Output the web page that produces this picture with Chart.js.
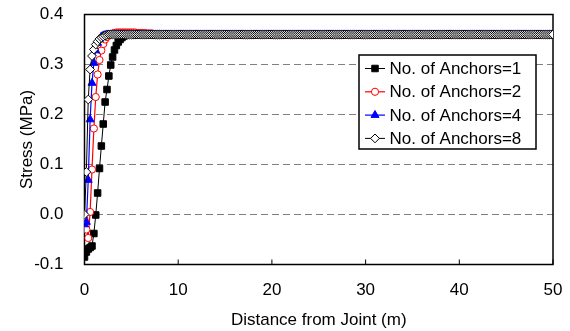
<!DOCTYPE html>
<html>
<head>
<meta charset="utf-8">
<script src="https://cdn.jsdelivr.net/npm/chart.js@4.4.1/dist/chart.umd.min.js"></script>
<style>
html, body { margin: 0; padding: 0; background: #fff; }
</style>
</head>
<body>
<canvas id="stressChart" width="570" height="331"></canvas>
<script>
// distance from joint (m), every 0.2 m
var distance = [
    0, 0.2, 0.4, 0.6, 0.8, 1, 1.2, 1.4, 1.6, 1.8,
    2, 2.2, 2.4, 2.6, 2.8, 3, 3.2, 3.4, 3.6, 3.8,
    4, 4.2, 4.4, 4.6, 4.8, 5, 5.2, 5.4, 5.6, 5.8,
    6, 6.2, 6.4, 6.6, 6.8, 7, 7.2, 7.4, 7.6, 7.8,
    8, 8.2, 8.4, 8.6, 8.8, 9, 9.2, 9.4, 9.6, 9.8,
    10, 10.2, 10.4, 10.6, 10.8, 11, 11.2, 11.4, 11.6, 11.8,
    12, 12.2, 12.4, 12.6, 12.8, 13, 13.2, 13.4, 13.6, 13.8,
    14, 14.2, 14.4, 14.6, 14.8, 15, 15.2, 15.4, 15.6, 15.8,
    16, 16.2, 16.4, 16.6, 16.8, 17, 17.2, 17.4, 17.6, 17.8,
    18, 18.2, 18.4, 18.6, 18.8, 19, 19.2, 19.4, 19.6, 19.8,
    20, 20.2, 20.4, 20.6, 20.8, 21, 21.2, 21.4, 21.6, 21.8,
    22, 22.2, 22.4, 22.6, 22.8, 23, 23.2, 23.4, 23.6, 23.8,
    24, 24.2, 24.4, 24.6, 24.8, 25, 25.2, 25.4, 25.6, 25.8,
    26, 26.2, 26.4, 26.6, 26.8, 27, 27.2, 27.4, 27.6, 27.8,
    28, 28.2, 28.4, 28.6, 28.8, 29, 29.2, 29.4, 29.6, 29.8,
    30, 30.2, 30.4, 30.6, 30.8, 31, 31.2, 31.4, 31.6, 31.8,
    32, 32.2, 32.4, 32.6, 32.8, 33, 33.2, 33.4, 33.6, 33.8,
    34, 34.2, 34.4, 34.6, 34.8, 35, 35.2, 35.4, 35.6, 35.8,
    36, 36.2, 36.4, 36.6, 36.8, 37, 37.2, 37.4, 37.6, 37.8,
    38, 38.2, 38.4, 38.6, 38.8, 39, 39.2, 39.4, 39.6, 39.8,
    40, 40.2, 40.4, 40.6, 40.8, 41, 41.2, 41.4, 41.6, 41.8,
    42, 42.2, 42.4, 42.6, 42.8, 43, 43.2, 43.4, 43.6, 43.8,
    44, 44.2, 44.4, 44.6, 44.8, 45, 45.2, 45.4, 45.6, 45.8,
    46, 46.2, 46.4, 46.6, 46.8, 47, 47.2, 47.4, 47.6, 47.8,
    48, 48.2, 48.4, 48.6, 48.8, 49, 49.2, 49.4, 49.6, 49.8,
    50
];

// stress (MPa) for each number of anchors
var anchors1 = [
    -0.085, -0.075, -0.069, -0.066, -0.063, -0.038, -0.001, 0.043, 0.092, 0.137,
    0.181, 0.225, 0.25, 0.277, 0.299, 0.315, 0.329, 0.338, 0.345, 0.35,
    0.354, 0.357, 0.359, 0.36, 0.361, 0.361, 0.361, 0.36, 0.36, 0.36,
    0.36, 0.36, 0.36, 0.36, 0.36, 0.36, 0.36, 0.36, 0.36, 0.36,
    0.36, 0.36, 0.36, 0.36, 0.36, 0.36, 0.36, 0.36, 0.36, 0.36,
    0.36, 0.36, 0.36, 0.36, 0.36, 0.36, 0.36, 0.36, 0.36, 0.36,
    0.36, 0.36, 0.36, 0.36, 0.36, 0.36, 0.36, 0.36, 0.36, 0.36,
    0.36, 0.36, 0.36, 0.36, 0.36, 0.36, 0.36, 0.36, 0.36, 0.36,
    0.36, 0.36, 0.36, 0.36, 0.36, 0.36, 0.36, 0.36, 0.36, 0.36,
    0.36, 0.36, 0.36, 0.36, 0.36, 0.36, 0.36, 0.36, 0.36, 0.36,
    0.36, 0.36, 0.36, 0.36, 0.36, 0.36, 0.36, 0.36, 0.36, 0.36,
    0.36, 0.36, 0.36, 0.36, 0.36, 0.36, 0.36, 0.36, 0.36, 0.36,
    0.36, 0.36, 0.36, 0.36, 0.36, 0.36, 0.36, 0.36, 0.36, 0.36,
    0.36, 0.36, 0.36, 0.36, 0.36, 0.36, 0.36, 0.36, 0.36, 0.36,
    0.36, 0.36, 0.36, 0.36, 0.36, 0.36, 0.36, 0.36, 0.36, 0.36,
    0.36, 0.36, 0.36, 0.36, 0.36, 0.36, 0.36, 0.36, 0.36, 0.36,
    0.36, 0.36, 0.36, 0.36, 0.36, 0.36, 0.36, 0.36, 0.36, 0.36,
    0.36, 0.36, 0.36, 0.36, 0.36, 0.36, 0.36, 0.36, 0.36, 0.36,
    0.36, 0.36, 0.36, 0.36, 0.36, 0.36, 0.36, 0.36, 0.36, 0.36,
    0.36, 0.36, 0.36, 0.36, 0.36, 0.36, 0.36, 0.36, 0.36, 0.36,
    0.36, 0.36, 0.36, 0.36, 0.36, 0.36, 0.36, 0.36, 0.36, 0.36,
    0.36, 0.36, 0.36, 0.36, 0.36, 0.36, 0.36, 0.36, 0.36, 0.36,
    0.36, 0.36, 0.36, 0.36, 0.36, 0.36, 0.36, 0.36, 0.36, 0.36,
    0.36, 0.36, 0.36, 0.36, 0.36, 0.36, 0.36, 0.36, 0.36, 0.36,
    0.36, 0.36, 0.36, 0.36, 0.36, 0.36, 0.36, 0.36, 0.36, 0.36,
    0.36
];
var anchors2 = [
    -0.01, -0.03, -0.047, 0.005, 0.09, 0.172, 0.235, 0.28, 0.309, 0.328,
    0.341, 0.35, 0.355, 0.358, 0.361, 0.362, 0.363, 0.364, 0.364, 0.364,
    0.364, 0.364, 0.364, 0.364, 0.364, 0.364, 0.364, 0.364, 0.363, 0.363,
    0.363, 0.363, 0.363, 0.362, 0.362, 0.362, 0.362, 0.361, 0.361, 0.361,
    0.361, 0.361, 0.36, 0.36, 0.36, 0.36, 0.36, 0.36, 0.36, 0.36,
    0.36, 0.36, 0.36, 0.36, 0.36, 0.36, 0.36, 0.36, 0.36, 0.36,
    0.36, 0.36, 0.36, 0.36, 0.36, 0.36, 0.36, 0.36, 0.36, 0.36,
    0.36, 0.36, 0.36, 0.36, 0.36, 0.36, 0.36, 0.36, 0.36, 0.36,
    0.36, 0.36, 0.36, 0.36, 0.36, 0.36, 0.36, 0.36, 0.36, 0.36,
    0.36, 0.36, 0.36, 0.36, 0.36, 0.36, 0.36, 0.36, 0.36, 0.36,
    0.36, 0.36, 0.36, 0.36, 0.36, 0.36, 0.36, 0.36, 0.36, 0.36,
    0.36, 0.36, 0.36, 0.36, 0.36, 0.36, 0.36, 0.36, 0.36, 0.36,
    0.36, 0.36, 0.36, 0.36, 0.36, 0.36, 0.36, 0.36, 0.36, 0.36,
    0.36, 0.36, 0.36, 0.36, 0.36, 0.36, 0.36, 0.36, 0.36, 0.36,
    0.36, 0.36, 0.36, 0.36, 0.36, 0.36, 0.36, 0.36, 0.36, 0.36,
    0.36, 0.36, 0.36, 0.36, 0.36, 0.36, 0.36, 0.36, 0.36, 0.36,
    0.36, 0.36, 0.36, 0.36, 0.36, 0.36, 0.36, 0.36, 0.36, 0.36,
    0.36, 0.36, 0.36, 0.36, 0.36, 0.36, 0.36, 0.36, 0.36, 0.36,
    0.36, 0.36, 0.36, 0.36, 0.36, 0.36, 0.36, 0.36, 0.36, 0.36,
    0.36, 0.36, 0.36, 0.36, 0.36, 0.36, 0.36, 0.36, 0.36, 0.36,
    0.36, 0.36, 0.36, 0.36, 0.36, 0.36, 0.36, 0.36, 0.36, 0.36,
    0.36, 0.36, 0.36, 0.36, 0.36, 0.36, 0.36, 0.36, 0.36, 0.36,
    0.36, 0.36, 0.36, 0.36, 0.36, 0.36, 0.36, 0.36, 0.36, 0.36,
    0.36, 0.36, 0.36, 0.36, 0.36, 0.36, 0.36, 0.36, 0.36, 0.36,
    0.36, 0.36, 0.36, 0.36, 0.36, 0.36, 0.36, 0.36, 0.36, 0.36,
    0.36
];
var anchors4 = [
    -0.02, -0.015, 0.069, 0.19, 0.263, 0.303, 0.328, 0.343, 0.351, 0.356,
    0.358, 0.359, 0.36, 0.36, 0.36, 0.36, 0.36, 0.36, 0.36, 0.36,
    0.36, 0.36, 0.36, 0.36, 0.36, 0.36, 0.36, 0.36, 0.36, 0.36,
    0.36, 0.36, 0.36, 0.36, 0.36, 0.36, 0.36, 0.36, 0.36, 0.36,
    0.36, 0.36, 0.36, 0.36, 0.36, 0.36, 0.36, 0.36, 0.36, 0.36,
    0.36, 0.36, 0.36, 0.36, 0.36, 0.36, 0.36, 0.36, 0.36, 0.36,
    0.36, 0.36, 0.36, 0.36, 0.36, 0.36, 0.36, 0.36, 0.36, 0.36,
    0.36, 0.36, 0.36, 0.36, 0.36, 0.36, 0.36, 0.36, 0.36, 0.36,
    0.36, 0.36, 0.36, 0.36, 0.36, 0.36, 0.36, 0.36, 0.36, 0.36,
    0.36, 0.36, 0.36, 0.36, 0.36, 0.36, 0.36, 0.36, 0.36, 0.36,
    0.36, 0.36, 0.36, 0.36, 0.36, 0.36, 0.36, 0.36, 0.36, 0.36,
    0.36, 0.36, 0.36, 0.36, 0.36, 0.36, 0.36, 0.36, 0.36, 0.36,
    0.36, 0.36, 0.36, 0.36, 0.36, 0.36, 0.36, 0.36, 0.36, 0.36,
    0.36, 0.36, 0.36, 0.36, 0.36, 0.36, 0.36, 0.36, 0.36, 0.36,
    0.36, 0.36, 0.36, 0.36, 0.36, 0.36, 0.36, 0.36, 0.36, 0.36,
    0.36, 0.36, 0.36, 0.36, 0.36, 0.36, 0.36, 0.36, 0.36, 0.36,
    0.36, 0.36, 0.36, 0.36, 0.36, 0.36, 0.36, 0.36, 0.36, 0.36,
    0.36, 0.36, 0.36, 0.36, 0.36, 0.36, 0.36, 0.36, 0.36, 0.36,
    0.36, 0.36, 0.36, 0.36, 0.36, 0.36, 0.36, 0.36, 0.36, 0.36,
    0.36, 0.36, 0.36, 0.36, 0.36, 0.36, 0.36, 0.36, 0.36, 0.36,
    0.36, 0.36, 0.36, 0.36, 0.36, 0.36, 0.36, 0.36, 0.36, 0.36,
    0.36, 0.36, 0.36, 0.36, 0.36, 0.36, 0.36, 0.36, 0.36, 0.36,
    0.36, 0.36, 0.36, 0.36, 0.36, 0.36, 0.36, 0.36, 0.36, 0.36,
    0.36, 0.36, 0.36, 0.36, 0.36, 0.36, 0.36, 0.36, 0.36, 0.36,
    0.36, 0.36, 0.36, 0.36, 0.36, 0.36, 0.36, 0.36, 0.36, 0.36,
    0.36
];
var anchors8 = [
    0, 0.085, 0.23, 0.29, 0.317, 0.33, 0.34, 0.346, 0.351, 0.354,
    0.356, 0.358, 0.359, 0.36, 0.36, 0.36, 0.36, 0.36, 0.36, 0.36,
    0.36, 0.36, 0.36, 0.36, 0.36, 0.36, 0.36, 0.36, 0.36, 0.36,
    0.36, 0.36, 0.36, 0.36, 0.36, 0.36, 0.36, 0.36, 0.36, 0.36,
    0.36, 0.36, 0.36, 0.36, 0.36, 0.36, 0.36, 0.36, 0.36, 0.36,
    0.36, 0.36, 0.36, 0.36, 0.36, 0.36, 0.36, 0.36, 0.36, 0.36,
    0.36, 0.36, 0.36, 0.36, 0.36, 0.36, 0.36, 0.36, 0.36, 0.36,
    0.36, 0.36, 0.36, 0.36, 0.36, 0.36, 0.36, 0.36, 0.36, 0.36,
    0.36, 0.36, 0.36, 0.36, 0.36, 0.36, 0.36, 0.36, 0.36, 0.36,
    0.36, 0.36, 0.36, 0.36, 0.36, 0.36, 0.36, 0.36, 0.36, 0.36,
    0.36, 0.36, 0.36, 0.36, 0.36, 0.36, 0.36, 0.36, 0.36, 0.36,
    0.36, 0.36, 0.36, 0.36, 0.36, 0.36, 0.36, 0.36, 0.36, 0.36,
    0.36, 0.36, 0.36, 0.36, 0.36, 0.36, 0.36, 0.36, 0.36, 0.36,
    0.36, 0.36, 0.36, 0.36, 0.36, 0.36, 0.36, 0.36, 0.36, 0.36,
    0.36, 0.36, 0.36, 0.36, 0.36, 0.36, 0.36, 0.36, 0.36, 0.36,
    0.36, 0.36, 0.36, 0.36, 0.36, 0.36, 0.36, 0.36, 0.36, 0.36,
    0.36, 0.36, 0.36, 0.36, 0.36, 0.36, 0.36, 0.36, 0.36, 0.36,
    0.36, 0.36, 0.36, 0.36, 0.36, 0.36, 0.36, 0.36, 0.36, 0.36,
    0.36, 0.36, 0.36, 0.36, 0.36, 0.36, 0.36, 0.36, 0.36, 0.36,
    0.36, 0.36, 0.36, 0.36, 0.36, 0.36, 0.36, 0.36, 0.36, 0.36,
    0.36, 0.36, 0.36, 0.36, 0.36, 0.36, 0.36, 0.36, 0.36, 0.36,
    0.36, 0.36, 0.36, 0.36, 0.36, 0.36, 0.36, 0.36, 0.36, 0.36,
    0.36, 0.36, 0.36, 0.36, 0.36, 0.36, 0.36, 0.36, 0.36, 0.36,
    0.36, 0.36, 0.36, 0.36, 0.36, 0.36, 0.36, 0.36, 0.36, 0.36,
    0.36, 0.36, 0.36, 0.36, 0.36, 0.36, 0.36, 0.36, 0.36, 0.36,
    0.36
];

var seriesLabels = ['No. of Anchors=1', 'No. of Anchors=2', 'No. of Anchors=4', 'No. of Anchors=8'];
var xTitle = 'Distance from Joint (m)';
var yTitle = 'Stress (MPa)';

var FONT = "'Liberation Sans', Arial, sans-serif";

function toPoints(values) {
    return distance.map(function (d, i) { return { x: d, y: values[i] }; });
}

// frame round the plot and the small inward ticks on the x axis
var framePlugin = {
    id: 'frame',
    beforeDatasetsDraw: function (chart) {
        var ctx = chart.ctx, a = chart.chartArea, x = chart.scales.x;
        ctx.save();
        ctx.strokeStyle = '#000';
        ctx.lineWidth = 1;
        x.ticks.forEach(function (t) {
            var px = x.getPixelForValue(t.value);
            ctx.beginPath();
            ctx.moveTo(px, a.bottom);
            ctx.lineTo(px, a.bottom - 5);
            ctx.stroke();
        });
        ctx.lineWidth = 1.5;
        ctx.strokeRect(a.left, a.top, a.right - a.left, a.bottom - a.top);
        ctx.restore();
    }
};

// boxed legend inside the plot, top right
var legendPlugin = {
    id: 'boxLegend',
    afterDatasetsDraw: function (chart) {
        var ctx = chart.ctx, a = chart.chartArea;
        var left = a.right - 194, top = a.top + 40.5, w = 177, h = 94;
        ctx.save();
        ctx.fillStyle = '#fff';
        ctx.fillRect(left, top, w, h);
        ctx.strokeStyle = '#000';
        ctx.lineWidth = 1.5;
        ctx.strokeRect(left, top, w, h);
        ctx.font = '17px ' + FONT;
        ctx.textBaseline = 'middle';
        [0, 1, 2, 3].forEach(function (idx, row) {
            var ds = chart.data.datasets[idx];
            var cy = top + 13.5 + row * 23.3;
            ctx.strokeStyle = ds.borderColor;
            ctx.lineWidth = ds.borderWidth;
            ctx.beginPath();
            ctx.moveTo(left + 6, cy);
            ctx.lineTo(left + 26, cy);
            ctx.stroke();
            ctx.fillStyle = ds.pointBackgroundColor;
            ctx.strokeStyle = ds.pointBorderColor;
            ctx.lineWidth = ds.pointBorderWidth;
            Chart.helpers.drawPoint(ctx, {
                pointStyle: ds.pointStyle,
                radius: ds.pointRadius,
                rotation: 0,
                borderWidth: ds.pointBorderWidth
            }, left + 16, cy);
            ctx.fillStyle = '#000';
            ctx.fillText(seriesLabels[idx], left + 30.5, cy + 1);
        });
        ctx.restore();
    }
};

var ctx = document.getElementById('stressChart').getContext('2d');
var stressChart = new Chart(ctx, {
    type: 'line',
    data: {
        datasets: [
            {
                label: seriesLabels[0],
                data: toPoints(anchors1),
                borderColor: '#000000',
                borderWidth: 1,
                pointStyle: 'rect',
                pointRadius: 4.6,
                pointBackgroundColor: '#000000',
                pointBorderColor: '#000000',
                pointBorderWidth: 1,
                order: 3
            },
            {
                label: seriesLabels[1],
                data: toPoints(anchors2),
                borderColor: '#ff0000',
                borderWidth: 1.2,
                pointStyle: 'circle',
                pointRadius: 3.6,
                pointBackgroundColor: '#ffffff',
                pointBorderColor: '#ff0000',
                pointBorderWidth: 1,
                order: 2
            },
            {
                label: seriesLabels[2],
                data: toPoints(anchors4),
                borderColor: '#0000ff',
                borderWidth: 1.2,
                pointStyle: 'triangle',
                pointRadius: 4.6,
                pointBackgroundColor: '#0000ff',
                pointBorderColor: '#0000ff',
                pointBorderWidth: 1,
                order: 1
            },
            {
                label: seriesLabels[3],
                data: toPoints(anchors8),
                borderColor: '#000000',
                borderWidth: 1,
                pointStyle: 'rectRot',
                pointRadius: 4.4,
                pointBackgroundColor: '#ffffff',
                pointBorderColor: '#000000',
                pointBorderWidth: 1,
                order: 0
            }
        ]
    },
    options: {
        responsive: false,
        animation: false,
        layout: { padding: { left: 0, top: 14.5, right: 17, bottom: 0 } },
        plugins: {
            legend: { display: false },
            tooltip: { enabled: false }
        },
        elements: { line: { tension: 0 } },
        scales: {
            x: {
                type: 'linear',
                min: 0,
                max: 50,
                ticks: {
                    stepSize: 10,
                    color: '#000',
                    padding: 16,
                    maxRotation: 0,
                    font: { family: FONT, size: 17 }
                },
                grid: { display: false, drawTicks: false },
                border: { display: false },
                title: {
                    display: true,
                    text: xTitle,
                    color: '#000',
                    font: { family: FONT, size: 17 },
                    padding: { top: 0, bottom: 0 }
                },
                afterFit: function (scale) {
                    scale.height = 66.5;
                    scale.paddingLeft = 0;
                    scale.paddingRight = 0;
                }
            },
            y: {
                min: -0.1,
                max: 0.4,
                ticks: {
                    stepSize: 0.1,
                    color: '#000',
                    padding: 21,
                    font: { family: FONT, size: 17 },
                    callback: function (v) { return Number(v).toFixed(1); }
                },
                grid: {
                    drawTicks: false,
                    lineWidth: 1,
                    color: function (c) {
                        var v = c.tick ? Math.round(c.tick.value * 10) : 0;
                        return (v === -1 || v === 4) ? 'rgba(0,0,0,0)' : '#808080';
                    }
                },
                border: { display: false, dash: [7, 4] },
                title: {
                    display: true,
                    text: yTitle,
                    color: '#000',
                    font: { family: FONT, size: 17 },
                    padding: { top: 17, bottom: 0 }
                },
                afterFit: function (scale) {
                    scale.width = 84.5;
                    scale.paddingTop = 0;
                    scale.paddingBottom = 0;
                }
            }
        }
    },
    plugins: [framePlugin, legendPlugin]
});
</script>
</body>
</html>
